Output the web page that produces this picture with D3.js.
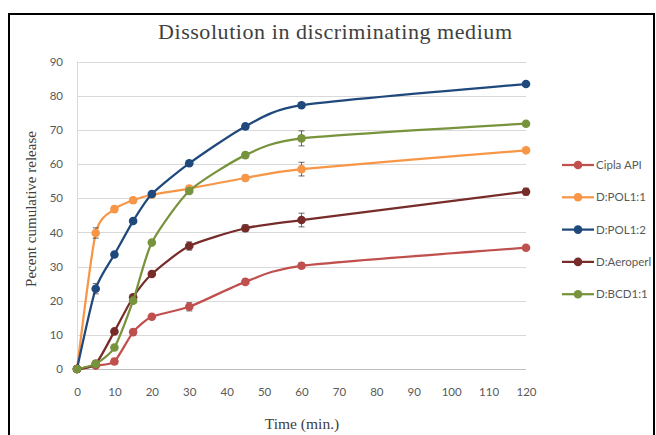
<!DOCTYPE html>
<html>
<head>
<meta charset="utf-8">
<script src="https://cdn.jsdelivr.net/npm/d3@7"></script>
<style>
  body { margin: 0; background: #fff; }
  svg { display: block; }
</style>
</head>
<body>
<script>
// dissolution profiles

var times = [0, 5, 10, 15, 20, 30, 45, 60, 120];
var seriesNames = ["Cipla API", "D:POL1:1", "D:POL1:2", "D:Aeroperl", "D:BCD1:1"];
var seriesColors = ["#C0504D", "#F79646", "#1F497D", "#772C2A", "#77933C"];
var ciplaApi = [0, 1, 2.2, 10.8, 15.3, 18.2, 25.5, 30.2, 35.5];
var pol11 = [0, 39.8, 46.8, 49.4, 51, 52.8, 55.9, 58.5, 64];
var pol12 = [0, 23.5, 33.5, 43.3, 51.2, 60.2, 71, 77.2, 83.4];
var aeroperl = [0, 1.5, 11, 21, 27.8, 36, 41.2, 43.6, 51.9];
var bcd11 = [0, 1.5, 6.3, 20, 37, 52.1, 62.6, 67.5, 71.8];
var ciplaErr = [0, 0.3, 0.8, 0.8, 0.6, 1.2, 0.8, 0.8, 0.6];
var pol11Err = [0, 1.5, 0.8, 0.8, 0.6, 0.8, 0.8, 2, 0.6];
var pol12Err = [0, 1.5, 0.6, 0.6, 0.6, 0.6, 0.8, 0.6, 0.6];
var aeroErr = [0, 0.3, 0.6, 0.8, 0.6, 1.2, 1, 2, 1];
var bcdErr = [0, 0.3, 0.6, 0.8, 0.6, 0.6, 0.8, 2.2, 0.6];
var xTicks = [0, 10, 20, 30, 40, 50, 60, 70, 80, 90, 100, 110, 120];
var yTicks = [0, 10, 20, 30, 40, 50, 60, 70, 80, 90];

var allValues = [ciplaApi, pol11, pol12, aeroperl, bcd11];
var allErrors = [ciplaErr, pol11Err, pol12Err, aeroErr, bcdErr];

var width = 656, height = 435;
var svg = d3.select("body").append("svg").attr("width", width).attr("height", height);

// outer frame
svg.append("rect")
      .attr("x", 9).attr("y", 14)
      .attr("width", 645).attr("height", 430)
      .attr("fill", "#fff").attr("stroke", "#000").attr("stroke-width", 2);

var x = d3.scaleLinear().domain([0, 120]).range([77, 526]);
var y = d3.scaleLinear().domain([0, 90]).range([369, 61.5]);

// gridlines
svg.append("g")
      .selectAll("line")
      .data(yTicks)
      .enter().append("line")
      .attr("x1", x(0)).attr("x2", x(120))
      .attr("y1", function (d) { return Math.round(y(d)) + 0.5; })
      .attr("y2", function (d) { return Math.round(y(d)) + 0.5; })
      .attr("stroke", function (d) { return d === 0 ? "#BFBFBF" : "#D9D9D9"; })
      .attr("stroke-width", 1);

svg.append("line")
      .attr("x1", x(0) + 0.5).attr("x2", x(0) + 0.5)
      .attr("y1", y(90)).attr("y2", y(0))
      .attr("stroke", "#D9D9D9");

// axes
var yAxis = svg.append("g")
      .attr("transform", "translate(" + (x(0) - 14) + ",0)")
      .call(d3.axisLeft(y).tickValues(yTicks).tickSize(0).tickPadding(0));
var xAxis = svg.append("g")
      .attr("transform", "translate(0," + (y(0) + 19) + ")")
      .call(d3.axisBottom(x).tickValues(xTicks).tickSize(0).tickPadding(0));
[xAxis, yAxis].forEach(function (a) {
      a.select(".domain").remove();
      a.selectAll("text")
            .attr("fill", "#595959")
            .style("font-family", "Lato, 'Liberation Sans', sans-serif")
            .style("font-size", "11.5px");
});

// titles
svg.append("text")
      .attr("x", 335).attr("y", 39)
      .attr("text-anchor", "middle")
      .attr("fill", "#404040")
      .attr("textLength", 354)
      .style("font-family", "'Liberation Serif', serif")
      .style("font-size", "22px")
      .text("Dissolution in discriminating medium");

svg.append("text")
      .attr("x", 302).attr("y", 429)
      .attr("text-anchor", "middle")
      .attr("fill", "#404040")
      .style("font-family", "'Liberation Serif', serif")
      .style("font-size", "15.5px")
      .text("Time (min.)");

svg.append("text")
      .attr("transform", "translate(36,209) rotate(-90)")
      .attr("text-anchor", "middle")
      .attr("fill", "#404040")
      .style("font-family", "'Liberation Serif', serif")
      .style("font-size", "15px")
      .text("Pecent cumulative release");

var line = d3.line()
      .x(function (d, i) { return x(times[i]); })
      .y(function (d) { return y(d); })
      .curve(d3.curveCardinal.tension(0.35));

for (var s = 0; s < allValues.length; s++) {
      var g = svg.append("g").attr("class", "series" + s);
      var vals = allValues[s], errs = allErrors[s];

      g.append("path")
            .attr("fill", "none")
            .attr("stroke", seriesColors[s])
            .attr("stroke-width", 2.25)
            .attr("d", line(vals));

      // error bars
      var eb = g.selectAll("g.err")
            .data(vals)
            .enter().append("g")
            .attr("class", "err");
      eb.append("line")
            .attr("x1", function (d, i) { return x(times[i]); })
            .attr("x2", function (d, i) { return x(times[i]); })
            .attr("y1", function (d, i) { return y(d + errs[i]); })
            .attr("y2", function (d, i) { return y(d - errs[i]); })
            .attr("stroke", "#404040").attr("stroke-width", 0.8);
      [1, -1].forEach(function (sign) {
            eb.append("line")
                  .attr("x1", function (d, i) { return x(times[i]) - 3; })
                  .attr("x2", function (d, i) { return x(times[i]) + 3; })
                  .attr("y1", function (d, i) { return y(d + sign * errs[i]); })
                  .attr("y2", function (d, i) { return y(d + sign * errs[i]); })
                  .attr("stroke", "#404040").attr("stroke-width", 0.8);
      });

      g.selectAll("circle")
            .data(vals)
            .enter().append("circle")
            .attr("fill", seriesColors[s])
            .attr("cx", function (d, i) { return x(times[i]); })
            .attr("cy", function (d) { return y(d); })
            .attr("r", 4.3);
}

// legend
var legend = svg.append("g")
      .selectAll("g")
      .data(seriesNames)
      .enter().append("g")
      .attr("transform", function (d, i) { return "translate(562," + (165 + i * 32.3) + ")"; });
legend.append("line")
      .attr("x1", 0).attr("x2", 32)
      .attr("stroke", function (d, i) { return seriesColors[i]; })
      .attr("stroke-width", 2.25);
legend.append("circle")
      .attr("cx", 16).attr("r", 4.3)
      .attr("fill", function (d, i) { return seriesColors[i]; });
legend.append("text")
      .attr("x", 34).attr("dy", "0.35em")
      .attr("fill", "#595959")
      .style("font-family", "Lato, 'Liberation Sans', sans-serif")
      .style("font-size", "11.5px")
      .text(function (d) { return d; });
</script>
</body>
</html>
